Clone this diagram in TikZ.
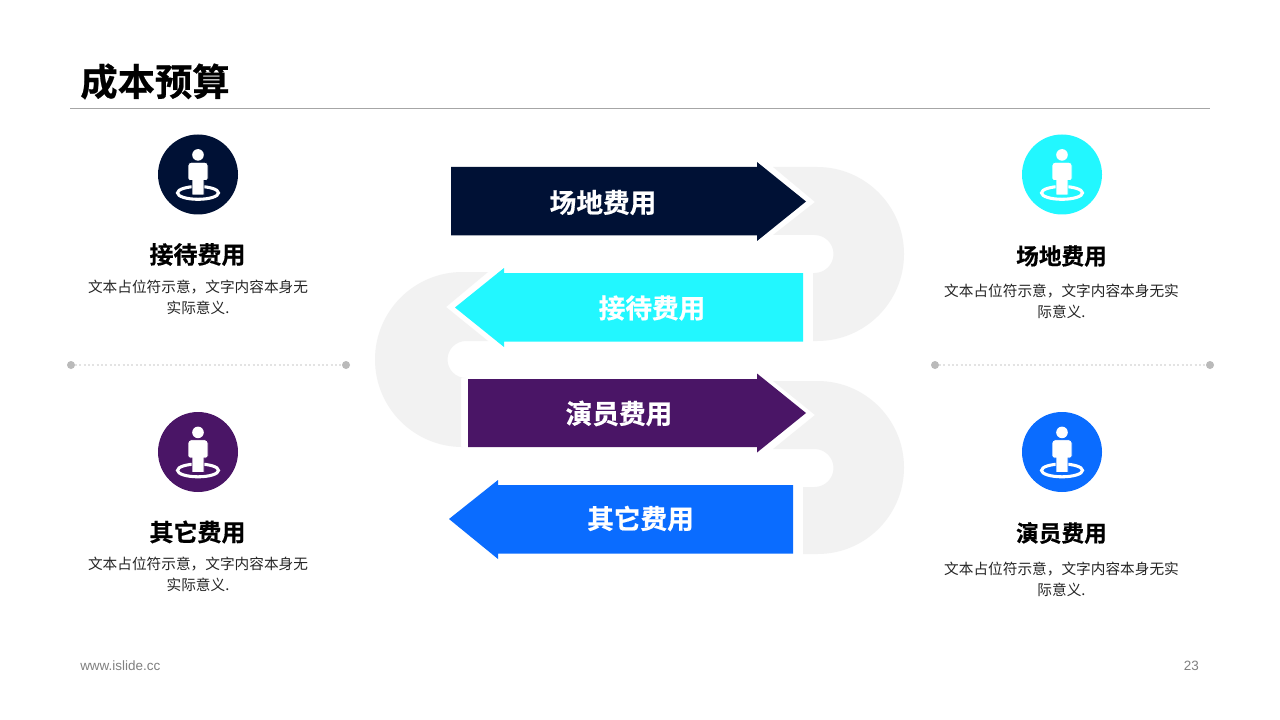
\documentclass[tikz,border=0pt]{standalone}
\usepackage{fontspec}
\setmainfont[BoldFont={Noto Sans CJK SC Bold},BoldFeatures={FakeBold=0.6}]{Noto Sans CJK SC}
\newfontfamily\latinfont{Liberation Sans}
\definecolor{navyc}{HTML}{001135}
\definecolor{cyanc}{HTML}{22F7FF}
\definecolor{purplec}{HTML}{4A1566}
\definecolor{bluec}{HTML}{0A6CFF}
\definecolor{greyshape}{HTML}{F2F2F2}
\newcommand{\personicon}[4]{% name, x, y, colour
  \node[iconcircle,fill=#4] (#1) at (#2,#3) {};
  \begin{scope}[shift={(#2,#3)}]
    \draw[white,line width=2.3pt] (0,18.4) ellipse [x radius=20.5,y radius=6.4];
    \fill[white] (0,-19.6) circle [radius=5.8];
    \draw[draw=#4,fill=white,line width=.6pt]
      (-10,-9.2) arc[start angle=180,end angle=270,radius=3] -- (7,-12.2) arc[start angle=270,end angle=360,radius=3]
      -- (10,4) arc[start angle=0,end angle=90,radius=2] -- (6,6) -- (6,20.5) -- (-6,20.5) -- (-6,6) -- (-8,6) arc[start angle=90,end angle=180,radius=2] -- cycle;
  \end{scope}
}
\tikzset{
  x=0.75pt,y=-0.75pt,
  iconcircle/.style={circle,minimum size=60pt,inner sep=0pt,outer sep=0pt},
  headlabel/.style={font=\fontsize{18}{22}\selectfont\bfseries,text=black,inner sep=0pt},
  headlabelr/.style={font=\fontsize{17}{21}\selectfont\bfseries,text=black,inner sep=0pt},
  bodytext/.style={font=\fontsize{11}{15.75}\selectfont,text=black!85,align=center,inner sep=0pt},
  arrowtext/.style={font=\fontsize{20}{24}\selectfont\bfseries,text=white,inner sep=0pt},
  dotend/.style={circle,fill=black!27,minimum size=6pt,inner sep=0pt,outer sep=0pt},
  dotline/.style={draw=black!11,line width=1.1pt,dash pattern=on 1.5pt off 1.75pt},
  foot/.style={font=\latinfont\fontsize{10.1}{12}\selectfont,text=black!50,inner sep=0pt},
}
\begin{document}
\begin{tikzpicture}
\useasboundingbox (0,0) rectangle (1280,720);
\fill[white] (0,0) rectangle (1280,720);
% title
\node[font=\fontsize{28}{34}\selectfont\bfseries,text=black,inner sep=0pt,anchor=center] (title) at (155,81.5) {成本预算};
\coordinate (ruleL) at (70,108.5);
\coordinate (ruleR) at (1210,108.5);
\draw[draw=black!35,line width=.6pt] (ruleL) -- (ruleR);
% grey S-band
\fill[greyshape] (773,167) -- (817,167) arc[start angle=-90,end angle=90,radius=87] -- (813,341) -- (813,273) -- (814.5,273) arc[start angle=90,end angle=-90,radius=19] -- (773,235) -- (815,202) -- cycle;
\fill[greyshape] (488,272) -- (462.5,272) arc[start angle=-90,end angle=-270,radius=87.5] -- (461,447) -- (461,378) -- (466,378) arc[start angle=90,end angle=270,radius=18.5] -- (488,341) -- (446,307) -- cycle;
\fill[greyshape] (773,381) -- (817.5,381) arc[start angle=-90,end angle=90,radius=86.5] -- (803,554) -- (803,487) -- (814.5,487) arc[start angle=90,end angle=-90,radius=19] -- (773,449) -- (815,415) -- cycle;
% arrows
\fill[navyc] (451,167) -- (757,167) -- (757,162) -- (806,201.5) -- (757,241) -- (757,235.5) -- (451,235.5) -- cycle;
\fill[cyanc] (803,273) -- (504,273) -- (504,268) -- (455,307.5) -- (504,347) -- (504,341.5) -- (803,341.5) -- cycle;
\fill[purplec] (468,379) -- (757,379) -- (757,373.5) -- (806,413) -- (757,452.5) -- (757,447) -- (468,447) -- cycle;
\fill[bluec] (793,485) -- (498,485) -- (498,480) -- (449,519) -- (498,559) -- (498,553.5) -- (793,553.5) -- cycle;
\node[arrowtext] (a1) at (603,202.5) {场地费用};
\node[arrowtext] (a2) at (652,308) {接待费用};
\node[arrowtext] (a3) at (619,413.5) {演员费用};
\node[arrowtext] (a4) at (640.5,518.5) {其它费用};
% icons
\personicon{i1}{198}{174.5}{navyc}
\personicon{i2}{1062}{174.5}{cyanc}
\personicon{i3}{198}{452}{purplec}
\personicon{i4}{1062}{452}{bluec}
% labels
\node[headlabel] (l1) at (197.5,254.5) {接待费用};
\node[bodytext] (b1) at (198,297.5) {文本占位符示意，文字内容本身无\\实际意义.};
\node[headlabelr] (l2) at (1061.5,256) {场地费用};
\node[bodytext] (b2) at (1061.5,301.5) {文本占位符示意，文字内容本身无实\\际意义.};
\node[headlabel] (l3) at (197.5,532) {其它费用};
\node[bodytext] (b3) at (198,574.5) {文本占位符示意，文字内容本身无\\实际意义.};
\node[headlabelr] (l4) at (1061.5,533) {演员费用};
\node[bodytext] (b4) at (1061.5,579) {文本占位符示意，文字内容本身无实\\际意义.};
% dividers
\node[dotend] (d1) at (71,365) {};
\node[dotend] (d2) at (346,365) {};
\node[dotend] (d3) at (935,365) {};
\node[dotend] (d4) at (1210,365) {};
\draw[dotline] (d1) -- (d2);
\draw[dotline] (d3) -- (d4);
% footer
\node[foot,anchor=west] (f1) at (80,666) {www.islide.cc};
\node[foot,anchor=east] (f2) at (1199,666) {23};
\end{tikzpicture}
\end{document}
